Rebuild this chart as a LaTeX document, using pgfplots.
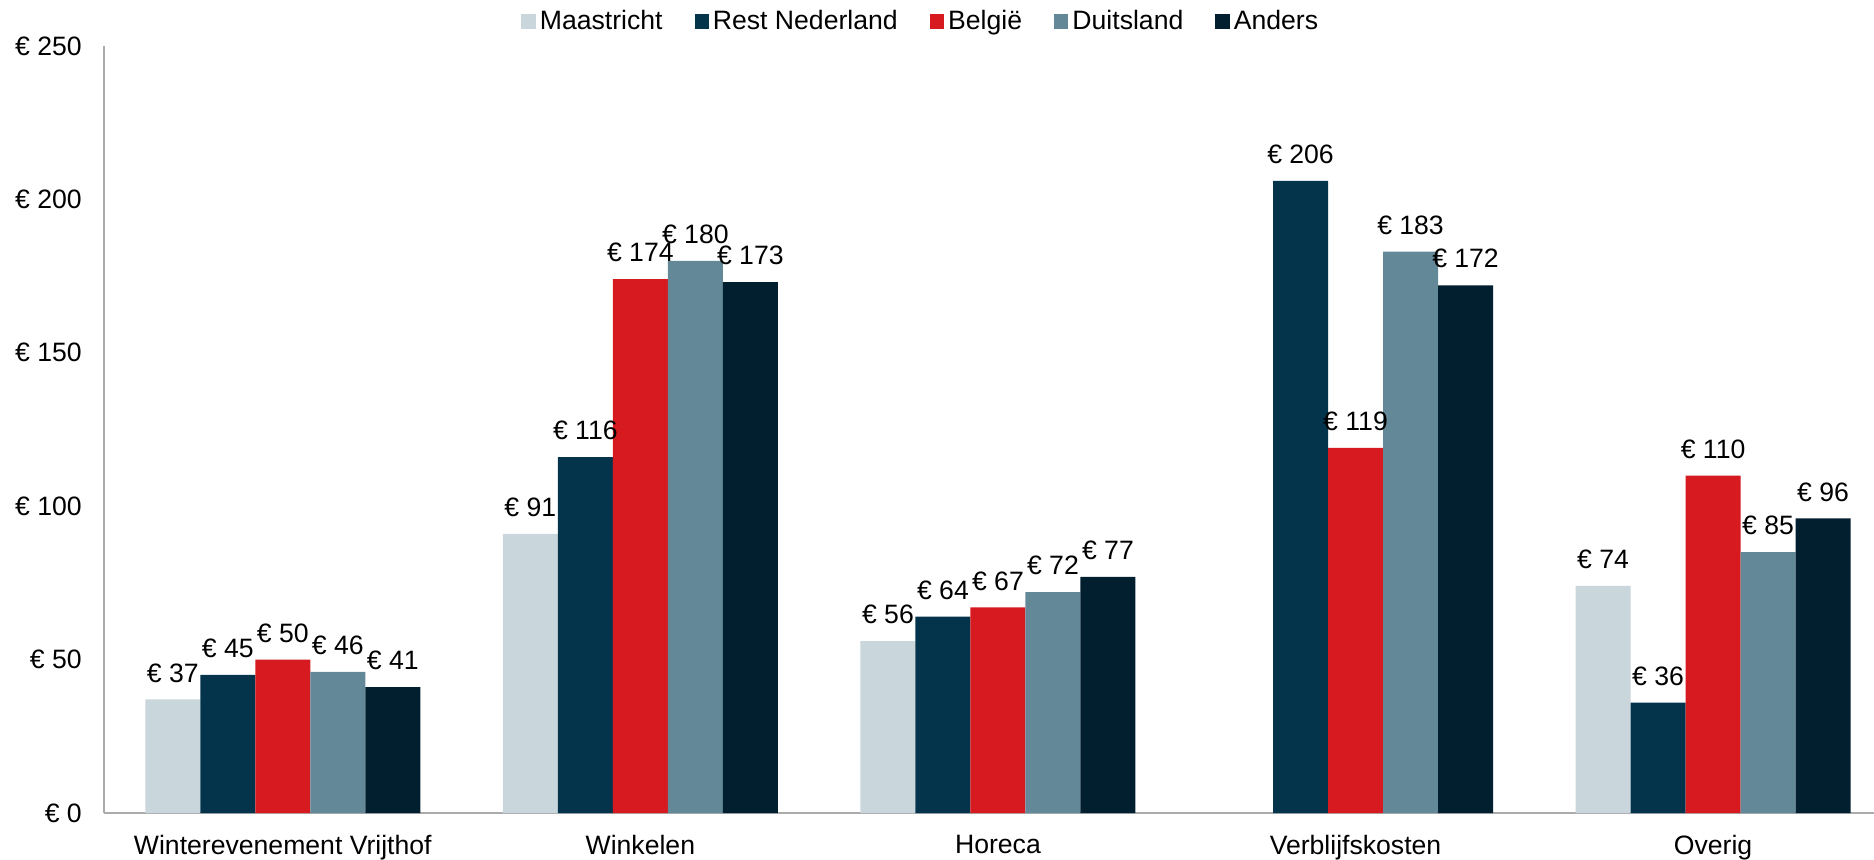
\documentclass[border=0pt]{standalone}
\usepackage{fontspec}
\setmainfont{Liberation Sans}
\usepackage{pgfplots}
\pgfplotsset{compat=1.18}
\definecolor{cMaa}{HTML}{C9D6DC}
\definecolor{cRest}{HTML}{03344C}
\definecolor{cBel}{HTML}{D71920}
\definecolor{cDui}{HTML}{638999}
\definecolor{cAnd}{HTML}{011F2F}
\definecolor{axgray}{HTML}{ABABAB}
\begin{document}
\begin{tikzpicture}[font=\fontsize{13.3pt}{16pt}\selectfont]
\useasboundingbox (-52pt,-23pt) rectangle (885pt,406.5pt);
\begin{axis}[
  scale only axis, width=885pt, height=383.5pt,
  at={(0,0)}, anchor=south west,
  ybar=0pt, bar width=27.5pt,
  xmin=-0.5, xmax=4.45, ymin=0, ymax=250,
  axis x line=bottom, axis y line=left,
  axis line style={draw=axgray, line width=0.75pt, -},
  xtick={0,1,2,3,4},
  xticklabels={Winterevenement Vrijthof,Winkelen,Horeca,Verblijfskosten,Overig},
  ytick={0,50,100,150,200,250},
  yticklabels={€~0,€~50,€~100,€~150,€~200,€~250},
  major tick length=0pt,
  xticklabel style={yshift=-7.8pt},
  yticklabel style={xshift=-7.6pt},
  nodes near coords={€~\pgfmathprintnumber[assume math mode=true]{\pgfplotspointmeta}},
  every node near coord/.append style={yshift=5pt, text=black},
  legend style={draw=none, fill=none, legend columns=-1, at={(0.462,1.032)}, anchor=center,
    /tikz/every even column/.append style={column sep=14pt}},
  legend image code/.code={\fill[#1] (0pt,-3.6pt) rectangle (7.2pt,3.6pt);},
  clip=false,
]
\addplot[fill=cMaa, draw=none] coordinates {(0,37) (1,91) (2,56) (4,74)};
\addplot[fill=cRest, draw=none] coordinates {(0,45) (1,116) (2,64) (3,206) (4,36)};
\addplot[fill=cBel, draw=none] coordinates {(0,50) (1,174) (2,67) (3,119) (4,110)};
\addplot[fill=cDui, draw=none] coordinates {(0,46) (1,180) (2,72) (3,183) (4,85)};
\addplot[fill=cAnd, draw=none] coordinates {(0,41) (1,173) (2,77) (3,172) (4,96)};
\legend{Maastricht,Rest Nederland,België,Duitsland,Anders}
\end{axis}
\end{tikzpicture}
\end{document}
